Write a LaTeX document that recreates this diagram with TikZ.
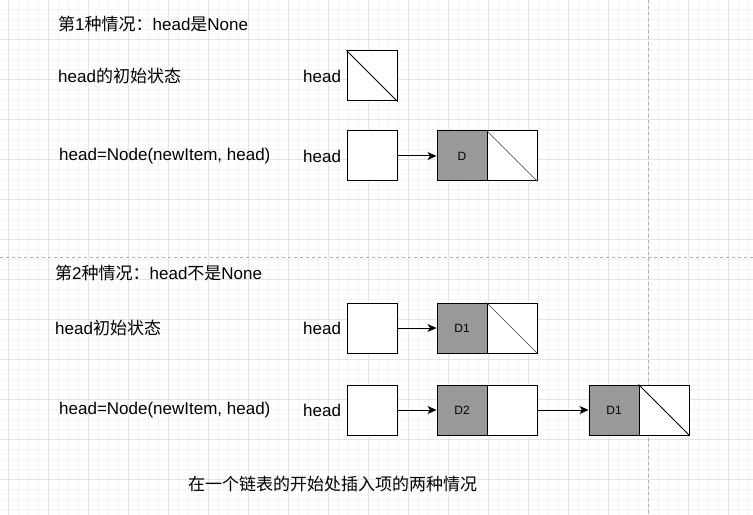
\documentclass[tikz,border=0pt]{standalone}
\usepackage{fontspec}
\setmainfont{Liberation Sans}
\newfontfamily\cjk{Noto Sans CJK SC}
\usetikzlibrary{arrows.meta}
\definecolor{minorgrid}{HTML}{F4F4F4}
\definecolor{majorgrid}{HTML}{E4E4E4}
\definecolor{dashgray}{HTML}{B0B0B0}
\definecolor{datafill}{HTML}{999999}
\tikzset{
  txt/.style={anchor=west, inner sep=0pt, font=\fontsize{17bp}{20bp}\selectfont},
  headlbl/.style={anchor=west, inner sep=0pt, font=\fontsize{17bp}{20bp}\selectfont},
  cell/.style={draw=black, line width=1bp, minimum width=50bp, minimum height=50bp, inner sep=0pt, fill=white},
  datacell/.style={cell, fill=datafill, font=\fontsize{12bp}{14bp}\selectfont},
  diag/.style={line width=0.8bp, black},
  diaglight/.style={line width=0.6bp, black!75},
  link/.style={line width=1bp, -{Stealth[length=9bp,width=8bp,inset=2.5bp]}},
  sep/.style={dashgray, line width=0.8bp, dash pattern=on 3bp off 3bp}
}
\begin{document}
\begin{tikzpicture}[x=1bp, y=-1bp]
\useasboundingbox (0,0) rectangle (753,515);
\fill[white] (0,0) rectangle (753,515);
% grid
\foreach \i in {0,...,74} {
  \pgfmathsetmacro{\xx}{8.5+10*\i}
  \draw[minorgrid, line width=1bp] (\xx,0) -- (\xx,515);
}
\foreach \i in {0,...,51} {
  \pgfmathsetmacro{\yy}{9.5+10*\i}
  \draw[minorgrid, line width=1bp] (0,\yy) -- (753,\yy);
}
\foreach \i in {0,...,18} {
  \pgfmathsetmacro{\xx}{8.5+40*\i}
  \draw[majorgrid, line width=1bp] (\xx,0) -- (\xx,515);
}
\foreach \i in {0,...,12} {
  \pgfmathsetmacro{\yy}{39.5+40*\i}
  \draw[majorgrid, line width=1bp] (0,\yy) -- (753,\yy);
}
% separators
\coordinate (hsA) at (0,257.5);
\coordinate (hsB) at (753,257.5);
\coordinate (vsA) at (648.5,0);
\coordinate (vsB) at (648.5,515);
\draw[sep] (hsA) -- (hsB);
\draw[sep] (vsA) -- (vsB);

% ---------- case 1 ----------
\node[txt] (t1) at (58,24) {{\cjk 第}1{\cjk 种情况：}head{\cjk 是}None};
\node[txt] (t2) at (58,76) {head{\cjk 的初始状态}};
\node[headlbl] (h1) at (303,76) {head};
\node[cell] (b1) at (372,76) {};
\draw[diag] (b1.north west) -- (b1.south east);

\node[txt] (t3) at (59,156) {head=Node(newItem, head)};
\node[headlbl] (h2) at (303,156) {head};
\node[cell] (b2) at (372,156) {};
\node[datacell] (d2) at (462,156) {D};
\node[cell] (n2) at (512,156) {};
\draw[diaglight] (n2.north west) -- (n2.south east);
\draw[link] (b2.east) -- (d2.west);

% ---------- case 2 ----------
\node[txt] (t4) at (55,273) {{\cjk 第}2{\cjk 种情况：}head{\cjk 不是}None};
\node[txt] (t5) at (55,328) {head{\cjk 初始状态}};
\node[headlbl] (h3) at (303,328) {head};
\node[cell] (b3) at (372,328) {};
\node[datacell] (d3) at (462,328) {D1};
\node[cell] (n3) at (512,328) {};
\draw[diaglight] (n3.north west) -- (n3.south east);
\draw[link] (b3.east) -- (d3.west);

\node[txt] (t6) at (59,410) {head=Node(newItem, head)};
\node[headlbl] (h4) at (303,410) {head};
\node[cell] (b4) at (372,410) {};
\node[datacell] (d4) at (462,410) {D2};
\node[cell] (n4) at (512,410) {};
\node[datacell] (d5) at (614,410) {D1};
\node[cell] (n5) at (664,410) {};
\draw[diag] (n5.north west) -- (n5.south east);
\draw[link] (b4.east) -- (d4.west);
\draw[link] (n4.east) -- (d5.west);

% caption
\node[txt] (cap) at (188,484) {\cjk 在一个链表的开始处插入项的两种情况};
\end{tikzpicture}
\end{document}
